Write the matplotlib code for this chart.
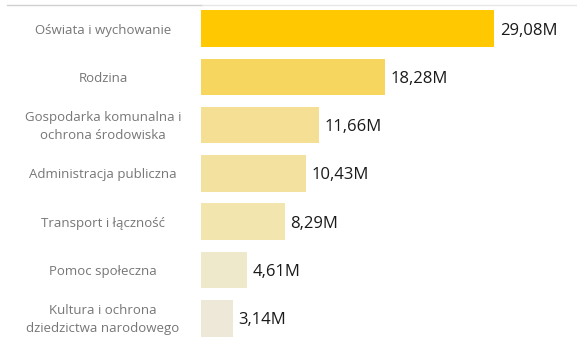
import matplotlib.pyplot as plt
from matplotlib.lines import Line2D

categories = ['Oświata i wychowanie', 'Rodzina', 'Gospodarka komunalna i\nochrona środowiska',
              'Administracja publiczna', 'Transport i łączność', 'Pomoc społeczna',
              'Kultura i ochrona\ndziedzictwa narodowego']
values = [29.08, 18.28, 11.66, 10.43, 8.29, 4.61, 3.14]
labels = ['29,08M', '18,28M', '11,66M', '10,43M', '8,29M', '4,61M', '3,14M']
colors = ['#FFC800', '#F7D660', '#F5DF95', '#F3E19F', '#F2E5AE', '#EFE9CB', '#EEE8D8']

plt.rcParams['font.family'] = ['Open Sans', 'DejaVu Sans']

W, H = 577, 338
fig = plt.figure(figsize=(W / 100, H / 100), dpi=100)
ax = fig.add_axes([201 / W, 0, 1 - 201 / W, 1 - 4.5 / H])

y = list(range(len(categories)))
ax.barh(y, values, height=0.76, color=colors)
for i, (v, lab) in enumerate(zip(values, labels)):
    ax.text(v + 0.55, i + 0.04, lab, va='center', ha='left', fontsize=12, color='#1a1a1a')
    ax.text(-98 / 10.08, i + 0.03, categories[i], va='center', ha='center', fontsize=9.5,
            color='#767676', linespacing=1.55)

ax.set_xlim(0, (W - 201) / 10.08)
ax.set_ylim(6.41, -0.5)
ax.axis('off')

fig.add_artist(Line2D([7 / W, 202 / W], [1 - 4.5 / H] * 2, color='#d0d0d0', lw=1))
fig.add_artist(Line2D([202 / W, 1], [1 - 4.5 / H] * 2, color='#e6e6e6', lw=1))

fig.savefig('out.png', dpi=100)
